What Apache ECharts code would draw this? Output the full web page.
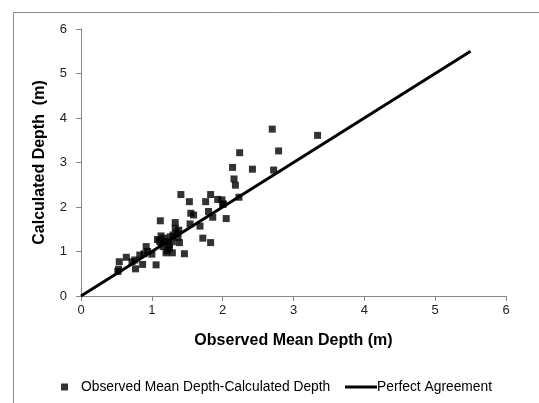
<!DOCTYPE html>
<html><head><meta charset="utf-8">
<script src="https://cdn.jsdelivr.net/npm/echarts@6/dist/echarts.min.js"></script>
<style>html,body{margin:0;padding:0;background:#fff}#c{width:539px;height:403px}</style>
</head><body><div id="c"></div>
<script>
const seriesObserved = 'Observed Mean Depth-Calculated Depth';
const seriesPerfect = 'Perfect Agreement';
const xTicks = [0,1,2,3,4,5,6];
const yTicks = [0,1,2,3,4,5,6];
// [observed mean depth, calculated depth]
const observedPoints = [
 [2.70,3.75],[2.79,3.26],[2.24,3.22],[2.14,2.89],[2.42,2.85],[2.72,2.83],
 [2.16,2.63],[2.18,2.49],[2.23,2.22],[1.41,2.28],[1.53,2.12],[1.83,2.28],
 [1.76,2.12],[1.93,2.17],[2.00,2.06],[1.55,1.86],[1.59,1.82],[1.80,1.90],
 [1.86,1.77],[2.05,1.74],[1.12,1.69],[1.33,1.65],[1.54,1.62],[1.68,1.57],
 [1.38,1.48],[1.35,1.41],[1.30,1.37],[1.13,1.35],[1.26,1.33],[1.37,1.32],
 [1.33,1.52],[1.11,1.23],[1.19,1.22],[1.29,1.22],[1.39,1.20],[1.13,1.19],
 [1.72,1.30],[1.83,1.20],[1.16,1.11],[1.25,1.07],[0.92,1.11],[1.22,1.02],
 [1.20,0.97],[1.29,0.97],[1.46,0.95],[0.83,0.92],[1.00,0.94],[0.94,1.00],
 [0.64,0.87],[0.54,0.77],[0.72,0.77],[0.76,0.81],[0.87,0.71],[1.06,0.70],
 [0.77,0.61],[0.53,0.60],[0.52,0.55],[3.34,3.61],[1.99,2.16],[2.01,2.07],
 [1.08,1.27],[1.24,1.15],[1.17,1.30],[0.89,0.95]
];
const perfectLine = [[0,0],[5.5,5.5]];

const chart = echarts.init(document.getElementById('c'));
const axisCol = '#868686';
const font = 'Liberation Sans';
chart.setOption({
  animation:false,
  textStyle:{fontFamily:font},
  graphic:[{type:'rect',shape:{x:13.5,y:12.5,width:700,height:600},style:{fill:'none',stroke:'#8c8c8c',lineWidth:1},silent:true}],
  grid:{left:81,top:29,right:33,bottom:107},
  xAxis:{type:'value',min:0,max:6,interval:1,
    name:'Observed Mean Depth (m)',nameLocation:'middle',nameGap:37,
    nameTextStyle:{fontFamily:font,fontWeight:'bold',fontSize:16,color:'#000'},
    axisLine:{lineStyle:{color:axisCol,width:1}},
    axisTick:{show:true,length:5,lineStyle:{color:axisCol}},
    axisLabel:{color:'#222',fontSize:13,margin:8,formatter:v=>xTicks.includes(v)?String(v):''},
    splitLine:{show:false}},
  yAxis:{type:'value',min:0,max:6,interval:1,
    name:'Calculated Depth  (m)',nameLocation:'middle',nameGap:33,
    nameTextStyle:{fontFamily:font,fontWeight:'bold',fontSize:16,color:'#000'},
    axisLine:{show:true,lineStyle:{color:axisCol,width:1}},
    axisTick:{show:true,length:5,lineStyle:{color:axisCol}},
    axisLabel:{color:'#222',fontSize:13,margin:14,formatter:v=>yTicks.includes(v)?String(v):''},
    splitLine:{show:false}},
  legend:[
    {data:[{name:seriesObserved,icon:'rect'}],left:56,top:375,itemWidth:7,itemHeight:7,itemGap:14,
     textStyle:{fontFamily:font,fontSize:13.8,color:'#000',padding:[0,0,0,8]}},
    {data:[{name:seriesPerfect,icon:'rect'}],left:340,top:375,itemWidth:32,itemHeight:3,itemGap:2,
     textStyle:{fontFamily:font,fontSize:13.8,color:'#000',padding:[0,0,0,-5]}}
  ],
  series:[
    {name:seriesPerfect,type:'line',data:perfectLine,symbol:'none',z:3,
     lineStyle:{color:'#000',width:3},itemStyle:{color:'#000'}},
    {name:seriesObserved,type:'scatter',data:observedPoints,symbol:'rect',symbolSize:7,z:4,
     itemStyle:{color:'#000'}}
  ]
});
</script></body></html>
